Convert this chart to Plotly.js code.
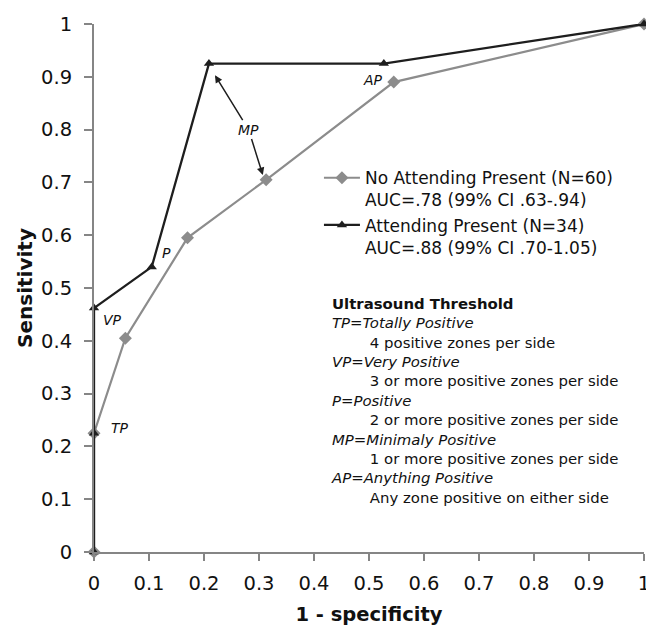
<!DOCTYPE html>
<html>
<head>
<meta charset="utf-8">
<script src="https://cdn.plot.ly/plotly-3.0.1.min.js"></script>
<style>html,body{margin:0;padding:0;background:#fff;}#chart{width:646px;height:626px;}</style>
</head>
<body>
<div id="chart"></div>
<script>
// 1 - specificity and sensitivity for each ultrasound threshold
const noAttX = [0, 0, 0.057, 0.17, 0.313, 0.545, 1];
const noAttY = [0, 0.225, 0.405, 0.595, 0.705, 0.89, 1];
const attX = [0, 0, 0, 0.105, 0.209, 0.527, 1];
const attY = [0, 0.225, 0.462, 0.54, 0.925, 0.925, 1];
const noAttName = "No Attending Present (N=60)<br>AUC=.78 (99% CI .63-.94)";
const attName = "Attending Present (N=34)<br>AUC=.88 (99% CI .70-1.05)";
const xTicks = [0, 0.1, 0.2, 0.3, 0.4, 0.5, 0.6, 0.7, 0.8, 0.9, 1];
const xTickText = ["0", "0.1", "0.2", "0.3", "0.4", "0.5", "0.6", "0.7", "0.8", "0.9", "1"];
const yTicks = [0, 0.1, 0.2, 0.3, 0.4, 0.5, 0.6, 0.7, 0.8, 0.9, 1];
const yTickText = ["0", "0.1", "0.2", "0.3", "0.4", "0.5", "0.6", "0.7", "0.8", "0.9", "1"];
const pointLabels = ["TP", "VP", "P", "MP", "AP"];
const thresholdLines = [
  "<b>Ultrasound Threshold</b>",
  "<i>TP=Totally Positive</i>",
  "\u00a0\u00a0\u00a0\u00a0\u00a0\u00a0\u00a0\u00a04 positive zones per side",
  "<i>VP=Very Positive</i>",
  "\u00a0\u00a0\u00a0\u00a0\u00a0\u00a0\u00a0\u00a03 or more positive zones per side",
  "<i>P=Positive</i>",
  "\u00a0\u00a0\u00a0\u00a0\u00a0\u00a0\u00a0\u00a02 or more positive zones per side",
  "<i>MP=Minimaly Positive</i>",
  "\u00a0\u00a0\u00a0\u00a0\u00a0\u00a0\u00a0\u00a01 or more positive zones per side",
  "<i>AP=Anything Positive</i>",
  "\u00a0\u00a0\u00a0\u00a0\u00a0\u00a0\u00a0\u00a0Any zone positive on either side"
];

const FONT = "DejaVu Sans, Verdana, sans-serif";
const GRAY = "#8c8c8c";
const DARK = "#1e1e1e";
const AXIS = "#858585";

const traces = [
  {
    x: noAttX, y: noAttY, name: noAttName, type: "scatter", mode: "lines+markers",
    line: {color: GRAY, width: 2.2},
    marker: {symbol: "diamond", size: 10, color: GRAY},
    cliponaxis: false
  },
  {
    x: attX, y: attY, name: attName, type: "scatter", mode: "lines+markers",
    line: {color: DARK, width: 2.3},
    marker: {symbol: "triangle-up", size: 9, color: DARK},
    cliponaxis: false
  }
];

const lblFont = {family: FONT, size: 14, color: "#111"};
function lbl(text, x, y) {
  return {text: "<i>" + text + "</i>", x: x, y: y, xref: "x", yref: "y", showarrow: false,
          xanchor: "left", yanchor: "middle", font: lblFont};
}

const annotations = [
  lbl(pointLabels[0], 0.027, 0.235),
  lbl(pointLabels[1], 0.013, 0.44),
  lbl(pointLabels[2], 0.12, 0.566),
  lbl(pointLabels[4], 0.485, 0.894),
  {text: "<i>" + pointLabels[3] + "</i>", x: 0.22, y: 0.903, ax: 0.281, ay: 0.8, xref: "x", yref: "y",
   axref: "x", ayref: "y", showarrow: true, arrowhead: 2, arrowsize: 1, arrowwidth: 1.5, arrowcolor: DARK,
   font: lblFont},
  {text: "<i>" + pointLabels[3] + "</i>", x: 0.307, y: 0.714, ax: 0.281, ay: 0.8, xref: "x", yref: "y",
   axref: "x", ayref: "y", showarrow: true, arrowhead: 2, arrowsize: 1, arrowwidth: 1.5, arrowcolor: DARK,
   font: {family: FONT, size: 14, color: "rgba(0,0,0,0)"}},
  {text: thresholdLines.join("<br>"), x: 0.428, y: 0.49, xref: "paper", yref: "paper",
   xanchor: "left", yanchor: "top", align: "left", showarrow: false,
   font: {family: FONT, size: 14.9, color: "#111"}}
];

const layout = {
  width: 646, height: 626,
  margin: {l: 94, r: 2, t: 24, b: 74},
  paper_bgcolor: "#fff", plot_bgcolor: "#fff",
  font: {family: FONT, color: "#111"},
  showlegend: true,
  legend: {x: 0.409, y: 0.742, xanchor: "left", yanchor: "top", bgcolor: "rgba(0,0,0,0)",
           itemwidth: 36, font: {family: FONT, size: 17, color: "#111"}, valign: "top"},
  xaxis: {
    range: [0, 1], tickvals: xTicks, ticktext: xTickText, ticklabeloverflow: "allow",
    showgrid: false, zeroline: false, showline: true, linecolor: AXIS, linewidth: 2,
    ticks: "outside", ticklen: 7, tickwidth: 2, tickcolor: AXIS, ticklabelstandoff: 6,
    tickfont: {family: FONT, size: 19.5, color: "#111"},
    title: {text: "<b>1 - specificity</b>", font: {family: FONT, size: 19.5, color: "#111"}, standoff: 27}
  },
  yaxis: {
    range: [0, 1], tickvals: yTicks, ticktext: yTickText,
    showgrid: false, zeroline: false, showline: true, linecolor: AXIS, linewidth: 2,
    ticks: "outside", ticklen: 8, tickwidth: 2, tickcolor: AXIS, ticklabelstandoff: 8,
    tickfont: {family: FONT, size: 19.5, color: "#111"},
    title: {text: "<b>Sensitivity</b>", font: {family: FONT, size: 20, color: "#111"}, standoff: 3}
  },
  annotations: annotations
};

Plotly.newPlot("chart", traces, layout, {displayModeBar: false, staticPlot: true});
</script>
</body>
</html>
